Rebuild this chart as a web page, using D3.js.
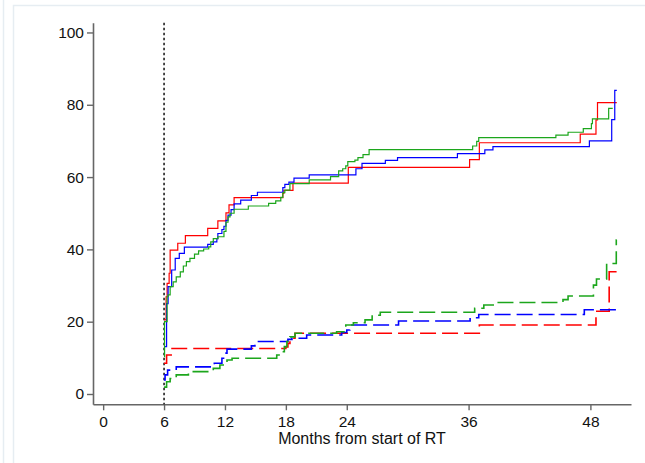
<!DOCTYPE html>
<html>
<head>
<meta charset="utf-8">
<script src="https://cdn.jsdelivr.net/npm/d3@7"></script>
<style>
  body { margin: 0; background: #fff; }
  svg { display: block; }
  .tick text { font-family: "Liberation Sans", Arial, sans-serif; fill: #111; }
</style>
</head>
<body>
<div id="chart"></div>
<script>
// axis ticks
const xTicks = [0, 6, 12, 18, 24, 36, 48];
const yTicks = [0, 20, 40, 60, 80, 100];
const landmark = 6;

// months / cumulative % (step curves)
const redSolidT = [6.0, 6.2, 6.3, 6.5, 6.6, 7.35, 8.1, 10.3, 11.3, 12.1, 12.4, 12.9, 17.7, 17.8, 18.7, 24.15, 36.1, 37.06, 47.0, 48.55, 48.7, 50.6];
const redSolidV = [20.5, 26.9, 30.6, 33.4, 39.8, 41.7, 43.8, 45.8, 47.9, 50.1, 52.3, 54.3, 55.5, 56.3, 58.3, 62.7, 64.8, 69.5, 71.9, 75.8, 80.6, 80.6];

const blueSolidT = [6.0, 6.25, 6.4, 6.75, 7.1, 7.5, 8.0, 10.3, 10.85, 11.2, 11.3, 11.7, 11.9, 12.1, 12.3, 12.6, 12.9, 13.55, 14.6, 15.2, 17.7, 17.9, 18.3, 18.8, 20.3, 24.9, 25.5, 27.8, 29.0, 34.9, 37.6, 38.4, 47.9, 50.1, 50.4, 50.6];
const blueSolidV = [13.1, 25.0, 29.7, 34.3, 37.5, 38.9, 40.6, 41.4, 42.1, 43.0, 44.4, 45.5, 46.4, 48.0, 49.5, 51.0, 52.6, 53.6, 54.9, 55.8, 57.1, 58.0, 58.6, 59.7, 60.6, 62.3, 63.8, 64.6, 65.4, 66.5, 67.5, 68.4, 70.0, 75.9, 84.0, 84.0];

const greenSolidT = [6.0, 6.05, 6.3, 6.4, 6.6, 6.9, 7.2, 7.6, 7.9, 8.2, 8.55, 9.0, 9.4, 9.9, 10.4, 10.6, 10.85, 11.3, 11.9, 12.1, 12.3, 12.5, 12.9, 14.3, 16.3, 17.0, 17.5, 17.7, 17.9, 18.4, 20.3, 22.4, 23.2, 23.6, 23.9, 24.1, 24.8, 25.1, 25.6, 26.2, 36.4, 36.8, 37.0, 44.6, 45.8, 47.3, 48.1, 48.2, 49.8, 50.2];
const greenSolidV = [10.3, 20.0, 26.9, 27.4, 29.7, 31.0, 32.4, 33.8, 35.4, 36.6, 37.5, 38.7, 39.6, 40.1, 40.7, 42.1, 43.0, 43.5, 45.0, 47.5, 49.0, 50.0, 51.1, 52.0, 52.7, 53.4, 54.4, 55.7, 56.4, 58.2, 59.2, 60.1, 61.7, 62.3, 63.1, 64.3, 64.7, 65.4, 66.2, 67.6, 68.6, 69.9, 70.9, 71.6, 72.4, 73.4, 74.8, 76.1, 79.0, 79.0];

const redDashT = [6.0, 6.25, 6.7, 18.0, 18.2, 18.4, 18.9, 37.06, 48.55, 49.85, 50.6];
const redDashV = [8.5, 10.8, 12.6, 13.0, 14.0, 15.4, 16.8, 19.1, 22.9, 33.8, 33.8];

const blueDashT = [6.0, 6.1, 6.35, 7.2, 10.95, 11.7, 12.0, 12.2, 14.6, 14.95, 15.3, 18.2, 18.6, 20.05, 23.5, 24.0, 24.3, 29.1, 36.15, 37.0, 47.4, 50.6];
const blueDashV = [3.9, 5.3, 6.6, 7.5, 8.5, 9.9, 11.3, 12.4, 13.3, 14.0, 14.5, 15.1, 15.4, 16.3, 17.0, 17.7, 19.1, 20.2, 21.1, 22.0, 23.3, 23.3];

const greenDashT = [6.0, 6.25, 6.6, 7.2, 8.4, 10.85, 11.5, 12.2, 12.7, 17.1, 17.6, 17.85, 18.1, 18.4, 18.9, 23.0, 23.9, 24.65, 25.8, 26.5, 27.3, 36.6, 37.5, 38.8, 45.3, 45.8, 48.3, 48.6, 49.6, 50.55, 50.6];
const greenDashV = [1.9, 3.4, 4.3, 5.3, 6.2, 7.1, 8.0, 9.4, 9.9, 10.8, 11.7, 13.1, 14.5, 15.8, 16.8, 17.2, 19.1, 19.7, 20.5, 21.8, 22.6, 23.7, 24.6, 25.3, 26.1, 27.1, 30.1, 31.8, 36.1, 42.6, 42.6];

const series = [
  {t: redDashT, v: redDashV, color: "#ff0000", dash: "16,6"},
  {t: blueDashT, v: blueDashV, color: "#0000ff", dash: "16,6"},
  {t: greenDashT, v: greenDashV, color: "#1ca61c", dash: "16,6"},
  {t: redSolidT, v: redSolidV, color: "#ff0000", dash: null},
  {t: blueSolidT, v: blueSolidV, color: "#0000ff", dash: null},
  {t: greenSolidT, v: greenSolidV, color: "#1ca61c", dash: null}
];

const width = 645, height = 463;

const svg = d3.select("#chart").append("svg")
    .attr("width", width)
    .attr("height", height);

// faint outer frame of the graph region
svg.append("line")
    .attr("x1", 3.5).attr("x2", 3.5)
    .attr("y1", 0).attr("y2", height)
    .attr("stroke", "#e6edf2").attr("stroke-width", 1.5);
svg.append("rect")
    .attr("x", 13.5).attr("y", 5.5)
    .attr("width", width).attr("height", height)
    .attr("fill", "none")
    .attr("stroke", "#e6edf2").attr("stroke-width", 1.5);

const x = d3.scaleLinear().domain([-1, 52]).range([93, 631]);
const y = d3.scaleLinear().domain([-2.85, 102.7]).range([404.3, 22.7]);

// axes
const yAxis = svg.append("g")
    .attr("transform", `translate(${x(-1)},0)`)
    .call(d3.axisLeft(y).tickValues(yTicks).tickSize(6).tickSizeOuter(0).tickPadding(3));
const xAxis = svg.append("g")
    .attr("transform", `translate(0,${y(-2.85)})`)
    .call(d3.axisBottom(x).tickValues(xTicks).tickSize(6).tickSizeOuter(0).tickPadding(6));

[yAxis, xAxis].forEach(g => {
    g.select(".domain").attr("stroke", "#666").attr("stroke-width", 1.6);
    g.selectAll(".tick line").attr("stroke", "#666").attr("stroke-width", 1.4);
    g.selectAll(".tick text").style("font-size", "15.5px");
});

svg.append("text")
    .attr("x", (x(-1) + x(52)) / 2)
    .attr("y", 444)
    .attr("text-anchor", "middle")
    .style("font-family", "'Liberation Sans', Arial, sans-serif")
    .style("font-size", "16px")
    .style("fill", "#111")
    .text("Months from start of RT");

// landmark at 6 months
svg.append("line")
    .attr("x1", x(landmark)).attr("x2", x(landmark))
    .attr("y1", y(102.7)).attr("y2", y(-2.85))
    .attr("stroke", "#000")
    .attr("stroke-width", 1.4)
    .attr("stroke-dasharray", "2.5,2.5");

const line = d3.line()
    .x(d => x(d[0]))
    .y(d => y(d[1]))
    .curve(d3.curveStepAfter);

series.forEach(s => {
    let pts = s.t.map((t, i) => [t, s.v[i]]);
    svg.append("path")
        .datum(pts)
        .attr("fill", "none")
        .attr("stroke", s.color)
        .attr("stroke-width", s.dash ? 1.6 : 1.2)
        .attr("stroke-dasharray", s.dash)
        .attr("d", line);
});
</script>
</body>
</html>
